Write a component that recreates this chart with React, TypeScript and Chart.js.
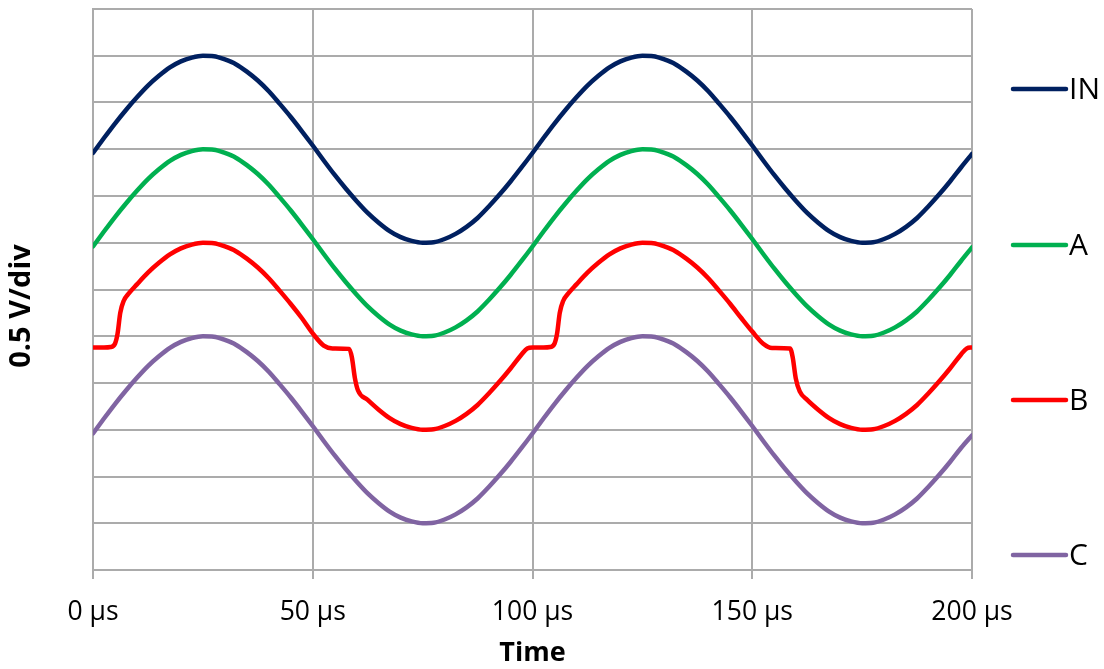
import React, { useEffect, useRef } from 'react';
import { Chart, registerables } from 'chart.js';

Chart.register(...registerables);

const seriesNames = ['IN', 'A', 'B', 'C'];
const seriesColors = ['#002060', '#00B050', '#FF0000', '#8064A2'];

const times = [
  0, 2.5, 5, 7.5, 10, 12.5, 15, 17.5, 20, 22.5, 25, 27.5, 30, 32.5, 35, 37.5, 40, 42.5, 45, 47.5,
  50, 52.5, 55, 57.5, 60, 62.5, 65, 67.5, 70, 72.5, 75, 77.5, 80, 82.5, 85, 87.5, 90, 92.5, 95, 97.5,
  100, 102.5, 105, 107.5, 110, 112.5, 115, 117.5, 120, 122.5, 125, 127.5, 130, 132.5, 135, 137.5, 140, 142.5, 145, 147.5,
  150, 152.5, 155, 157.5, 160, 162.5, 165, 167.5, 170, 172.5, 175, 177.5, 180, 182.5, 185, 187.5, 190, 192.5, 195, 197.5,
  200,
];

const inValues = [
  8.92, 9.24, 9.55, 9.84, 10.11, 10.36, 10.57, 10.75, 10.88, 10.96, 11.0, 10.99, 10.92, 10.82, 10.66, 10.47, 10.24, 9.97, 9.69, 9.39,
  9.08, 8.76, 8.45, 8.16, 7.89, 7.64, 7.43, 7.25, 7.12, 7.04, 7.0, 7.01, 7.08, 7.19, 7.34, 7.53, 7.77, 8.03, 8.31, 8.61,
  8.92, 9.24, 9.55, 9.84, 10.11, 10.36, 10.57, 10.75, 10.88, 10.96, 11.0, 10.99, 10.92, 10.82, 10.66, 10.47, 10.24, 9.97, 9.69, 9.39,
  9.08, 8.76, 8.45, 8.16, 7.89, 7.64, 7.43, 7.25, 7.12, 7.04, 7.0, 7.01, 7.08, 7.19, 7.34, 7.53, 7.77, 8.03, 8.31, 8.61,
  8.9,
];

const aValues = [
  6.92, 7.24, 7.55, 7.84, 8.11, 8.36, 8.57, 8.75, 8.88, 8.96, 9.0, 8.99, 8.92, 8.82, 8.66, 8.47, 8.24, 7.97, 7.69, 7.39,
  7.08, 6.76, 6.45, 6.16, 5.89, 5.64, 5.43, 5.25, 5.12, 5.04, 5.0, 5.01, 5.08, 5.19, 5.34, 5.53, 5.77, 6.03, 6.31, 6.61,
  6.92, 7.24, 7.55, 7.84, 8.11, 8.36, 8.57, 8.75, 8.88, 8.96, 9.0, 8.99, 8.92, 8.82, 8.66, 8.47, 8.24, 7.97, 7.69, 7.39,
  7.08, 6.76, 6.45, 6.16, 5.89, 5.64, 5.43, 5.25, 5.12, 5.04, 5.0, 5.01, 5.08, 5.19, 5.34, 5.53, 5.77, 6.03, 6.31, 6.61,
  6.9,
];

const cValues = [
  2.92, 3.24, 3.55, 3.84, 4.11, 4.36, 4.57, 4.75, 4.88, 4.96, 5.0, 4.99, 4.92, 4.82, 4.66, 4.47, 4.24, 3.97, 3.69, 3.39,
  3.08, 2.76, 2.45, 2.16, 1.89, 1.64, 1.43, 1.25, 1.12, 1.04, 1.0, 1.01, 1.08, 1.19, 1.34, 1.53, 1.77, 2.03, 2.31, 2.61,
  2.92, 3.24, 3.55, 3.84, 4.11, 4.36, 4.57, 4.75, 4.88, 4.96, 5.0, 4.99, 4.92, 4.82, 4.66, 4.47, 4.24, 3.97, 3.69, 3.39,
  3.08, 2.76, 2.45, 2.16, 1.89, 1.64, 1.43, 1.25, 1.12, 1.04, 1.0, 1.01, 1.08, 1.19, 1.34, 1.53, 1.77, 2.03, 2.31, 2.61,
  2.88,
];

// B is sampled unevenly (time µs, value div) to keep its clipped steps
const bSamples: [number, number][] = [
  [0, 4.76], [2.5, 4.76], [4, 4.77], [5, 4.84], [5.6, 5.06], [6.2, 5.5], [7, 5.76], [8, 5.9],
  [10, 6.11], [12.5, 6.36], [15, 6.57], [17.5, 6.75], [20, 6.88], [22.5, 6.96], [25, 7.0], [27.5, 6.99],
  [30, 6.92], [32.5, 6.82], [35, 6.66], [37.5, 6.47], [40, 6.24], [42.5, 5.97], [45, 5.69], [47.5, 5.39],
  [50, 5.06], [52.5, 4.8], [54.5, 4.74], [58.3, 4.73], [58.9, 4.55], [59.6, 4.1], [60.3, 3.84], [62.5, 3.64],
  [65, 3.43], [67.5, 3.25], [70, 3.12], [72.5, 3.04], [75, 3.0], [77.5, 3.01], [80, 3.08], [82.5, 3.19],
  [85, 3.34], [87.5, 3.53], [90, 3.77], [92.5, 4.03], [95, 4.31], [97.5, 4.61], [98.8, 4.74], [100, 4.76],
  [102.5, 4.76], [104, 4.77], [105, 4.84], [105.6, 5.06], [106.2, 5.5], [107, 5.76], [108, 5.9],
  [110, 6.11], [112.5, 6.36], [115, 6.57], [117.5, 6.75], [120, 6.88], [122.5, 6.96], [125, 7.0], [127.5, 6.99],
  [130, 6.92], [132.5, 6.82], [135, 6.66], [137.5, 6.47], [140, 6.24], [142.5, 5.97], [145, 5.69], [147.5, 5.39],
  [150, 5.1], [152.5, 4.84], [154.5, 4.75], [158.6, 4.74], [159.2, 4.55], [159.9, 4.1], [160.8, 3.82], [162.5, 3.64],
  [165, 3.43], [167.5, 3.25], [170, 3.12], [172.5, 3.04], [175, 3.0], [177.5, 3.01], [180, 3.08], [182.5, 3.19],
  [185, 3.34], [187.5, 3.53], [190, 3.77], [192.5, 4.03], [195, 4.31], [197.5, 4.61], [198.8, 4.74], [200, 4.76],
];

const xTicks = [0, 50, 100, 150, 200];
const xTickLabels = ['0 µs', '50 µs', '100 µs', '150 µs', '200 µs'];
const yMin = 0;
const yMax = 12;
const yTitle = '0.5 V/div';
const xTitle = 'Time';

const FONT = '"Open Sans", "Noto Sans", sans-serif';
const GRID = '#ABABAB';

const decorPlugin = {
  id: 'decor',
  afterDraw(chart: any) {
    const { ctx, chartArea } = chart;
    ctx.save();
    ctx.fillStyle = '#000';
    // y title
    ctx.save();
    ctx.translate(22, 306);
    ctx.rotate(-Math.PI / 2);
    ctx.font = `bold 29px ${FONT}`;
    ctx.textAlign = 'center';
    ctx.textBaseline = 'middle';
    ctx.fillText(yTitle, 0, 0);
    ctx.restore();
    // x title
    ctx.font = `bold 27px ${FONT}`;
    ctx.textAlign = 'center';
    ctx.textBaseline = 'middle';
    ctx.fillText(xTitle, (chartArea.left + chartArea.right) / 2, 653);
    // legend
    const legendY = [89, 245, 400, 555];
    chart.data.datasets.forEach((ds: any, i: number) => {
      const y = legendY[i];
      ctx.strokeStyle = ds.borderColor;
      ctx.lineWidth = 4.5;
      ctx.lineCap = 'round';
      ctx.beginPath();
      ctx.moveTo(1013, y);
      ctx.lineTo(1066, y);
      ctx.stroke();
      ctx.fillStyle = '#000';
      ctx.font = `30px ${FONT}`;
      ctx.textAlign = 'left';
      ctx.textBaseline = 'middle';
      ctx.fillText(ds.label, 1069, y + 1);
    });
    ctx.restore();
  },
};

export default function App() {
  const canvasRef = useRef<HTMLCanvasElement | null>(null);

  useEffect(() => {
    document.body.style.margin = '0';
    const canvas = canvasRef.current;
    if (!canvas) return;
    const mk = (vals: number[]) => vals.map((v, i) => ({ x: times[i], y: v }));
    const seriesData = [
      mk(inValues),
      mk(aValues),
      bSamples.map(([x, y]) => ({ x, y })),
      mk(cValues),
    ];
    const chart = new Chart(canvas, {
      type: 'line',
      data: {
        datasets: seriesNames.map((name, i) => ({
          label: name,
          data: seriesData[i],
          borderColor: seriesColors[i],
          backgroundColor: seriesColors[i],
          borderWidth: 4.5,
          pointRadius: 0,
          cubicInterpolationMode: 'monotone' as const,
          borderJoinStyle: 'round' as const,
          borderCapStyle: 'round' as const,
          fill: false,
        })),
      },
      options: {
        animation: false,
        responsive: false,
        devicePixelRatio: 1,
        layout: { padding: { top: 9, right: 132, bottom: 0, left: 0 } },
        plugins: { legend: { display: false }, tooltip: { enabled: false } },
        scales: {
          x: {
            type: 'linear',
            min: xTicks[0],
            max: xTicks[xTicks.length - 1],
            afterBuildTicks: (scale: any) => {
              scale.ticks = xTicks.map((v) => ({ value: v }));
            },
            afterFit: (scale: any) => {
              scale.height = 99;
            },
            grid: { color: GRID, lineWidth: 2, tickLength: 9, drawTicks: true },
            border: { display: true, color: GRID, width: 2 },
            ticks: {
              autoSkip: false,
              maxRotation: 0,
              padding: 18,
              color: '#000',
              font: { family: FONT, size: 26.5 },
              callback: (v: any) => xTickLabels[xTicks.indexOf(Number(v))] ?? '',
            },
          },
          y: {
            type: 'linear',
            min: yMin,
            max: yMax,
            afterFit: (scale: any) => {
              scale.width = 93;
            },
            grid: { color: GRID, lineWidth: 2, drawTicks: false },
            border: { display: true, color: GRID, width: 2 },
            ticks: { display: false, stepSize: 1 },
          },
        },
      },
      plugins: [decorPlugin],
    });
    return () => chart.destroy();
  }, []);

  return (
    <div style={{ position: 'absolute', left: 0, top: 0, width: 1104, height: 669, background: '#fff' }}>
      <canvas ref={canvasRef} width={1104} height={669} />
    </div>
  );
}
